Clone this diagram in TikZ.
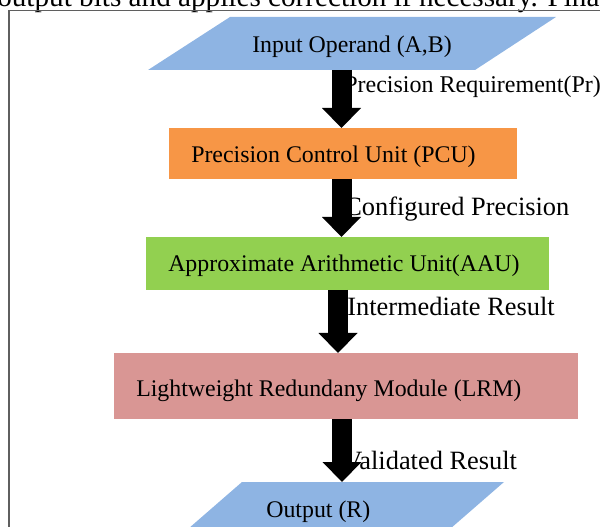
\documentclass[tikz,border=0pt]{standalone}
\usepackage{fontspec}
\setmainfont{Liberation Serif}
\usetikzlibrary{arrows.meta,calc}
\definecolor{inblue}{HTML}{8EB4E3}
\definecolor{pcuor}{HTML}{F79646}
\definecolor{aaugr}{HTML}{92D050}
\definecolor{lrmred}{HTML}{D99694}
\definecolor{framegray}{HTML}{5F5F5F}
\begin{document}
\begin{tikzpicture}[x=0.75pt,y=-0.75pt,
  box/.style={rectangle,inner sep=0pt,outer sep=0pt},
  boxtext/.style={inner sep=0pt,anchor=base west,font=\fontsize{17.9pt}{20pt}\selectfont},
  flowlabel/.style={inner sep=0pt,anchor=base west,font=\fontsize{19.8pt}{22pt}\selectfont},
  bigarrow/.style={line width=15pt,-{Triangle[length=15pt,width=29.25pt,line width=0pt]}}]
\useasboundingbox (0,0) rectangle (600,527);
\clip (0,0) rectangle (600,527);
\node[inner sep=0pt,anchor=base west,font=\fontsize{21.9pt}{24pt}\selectfont] (toptext) at (-3,7) {output bits and applies correction if necessary. Final};
\draw[framegray,line width=1.1pt] (9,560) -- (9,10.5) -- (620,10.5);
% shapes
\node[box,minimum width=306pt,minimum height=39.75pt] (in) at (352,43.5) {};
\fill[inblue] ($(in.north west)+(82,0)$) -- (in.north east) -- ($(in.south east)+(-81,0)$) -- (in.south west) -- cycle;
\node[box,fill=pcuor,minimum width=261pt,minimum height=38.25pt] (pcu) at (343,153.5) {};
\node[box,fill=aaugr,minimum width=302.25pt,minimum height=39.75pt] (aau) at (347.5,263.5) {};
\node[box,fill=lrmred,minimum width=348pt,minimum height=49.5pt] (lrm) at (346,386) {};
\node[box,minimum width=244.8pt,minimum height=42pt] (out) at (340.8,510) {};
\fill[inblue] ($(out.north west)+(64.4,0)$) -- (out.north east) -- ($(out.south east)+(-64.4,0)$) -- (out.south west) -- cycle;
% texts
\node[boxtext] (intext) at (252,53) {Input Operand (A,B)};
\node[boxtext] (pcutext) at (191,163) {Precision Control Unit (PCU)};
\node[boxtext] (aautext) at (168,272) {Approximate Arithmetic Unit(AAU)};
\node[boxtext] (lrmtext) at (136,397) {Lightweight Redundany Module (LRM)};
\node[boxtext] (outtext) at (266,517) {Output (R)};
% arrows
\coordinate (ax1) at (341.5,0);
\coordinate (ax3) at (338,0);
\coordinate (ax4) at (342,0);
\draw[bigarrow] (in.south -| ax1) -- (pcu.north -| ax1);
\draw[bigarrow] (pcu.south -| ax1) -- (aau.north -| ax1);
\draw[bigarrow] (aau.south -| ax3) -- (lrm.north -| ax3);
\draw[bigarrow] (lrm.south -| ax4) -- (out.north -| ax4);
% labels
\node[flowlabel,font=\fontsize{18pt}{20pt}\selectfont] (l1) at (344,93) {Precision Requirement(Pr)};
\node[flowlabel] (l2) at (344,216) {Configured Precision};
\node[flowlabel] (l3) at (347,316) {Intermediate Result};
\node[flowlabel] (l4) at (343,469) {Validated Result};
\end{tikzpicture}
\end{document}
